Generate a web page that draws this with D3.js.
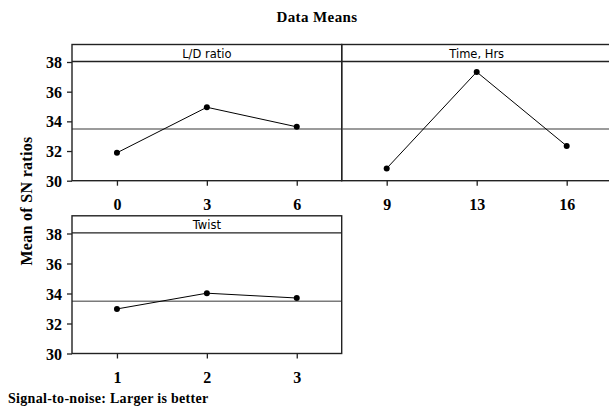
<!DOCTYPE html>
<meta charset="utf-8">
<style>
body { margin: 0; background: #fff; }
svg { display: block; overflow: hidden; }
.tick-label { font-family: "Liberation Serif", "Times New Roman", serif; font-weight: bold; font-size: 16px; fill: #000; }
.strip { font-family: "DejaVu Sans", sans-serif; font-size: 11.5px; fill: #000; }
</style>
<body>
<script src="https://d3js.org/d3.v7.min.js"></script>
<script>

// values
var factors = ["L/D ratio", "Time, Hrs", "Twist"];
var ldLevels = ["0", "3", "6"];
var ldMeans = [31.88, 34.95, 33.63];
var timeLevels = ["9", "13", "16"];
var timeMeans = [30.83, 37.33, 32.34];
var twistLevels = ["1", "2", "3"];
var twistMeans = [32.97, 34.02, 33.70];
var grandMean = 33.49;
var yTicks = [30, 32, 34, 36, 38];

var width = 609, height = 409;

var svg = d3.select("body").append("svg")
    .attr("width", width)
    .attr("height", height);

// panel boxes (left, right, top, bottom)
var boxes = [
  {x0: 72, x1: 341.7, y0: 44.5, y1: 180.7, yaxis: true},
  {x0: 341.7, x1: 611.7, y0: 44.5, y1: 180.7, yaxis: false},
  {x0: 72, x1: 341.7, y0: 215.8, y1: 353.5, yaxis: true}
];
var levels = [ldLevels, timeLevels, twistLevels];
var means = [ldMeans, timeMeans, twistMeans];
var stripH = 17;

factors.forEach(function(name, i){
  var b = boxes[i];
  var g = svg.append("g");

  var x = d3.scalePoint()
    .domain(levels[i])
    .range([b.x0, b.x1])
    .padding(0.5);
  var y = d3.scaleLinear()
    .domain([30, 39.18])
    .range([b.y1, b.y0]);

  // grand mean reference line
  g.append("line")
    .attr("x1", b.x0).attr("x2", b.x1)
    .attr("y1", y(grandMean)).attr("y2", y(grandMean))
    .attr("stroke", "#7a7a7a")
    .attr("stroke-width", 1.5);

  // strip
  g.append("line")
    .attr("x1", b.x0).attr("x2", b.x1)
    .attr("y1", b.y0 + stripH).attr("y2", b.y0 + stripH)
    .attr("stroke", "#222")
    .attr("stroke-width", 1.3);
  g.append("text")
    .attr("class", "strip")
    .attr("x", (b.x0 + b.x1) / 2)
    .attr("y", b.y0 + 13.5)
    .attr("text-anchor", "middle")
    .text(name);

  // panel border
  g.append("rect")
    .attr("x", b.x0).attr("y", b.y0)
    .attr("width", b.x1 - b.x0).attr("height", b.y1 - b.y0)
    .attr("fill", "none")
    .attr("stroke", "#222")
    .attr("stroke-width", 1.4);

  // x axis
  var xAxis = g.append("g")
    .attr("transform", "translate(0," + b.y1 + ")")
    .call(d3.axisBottom(x).tickSize(5).tickPadding(10));
  xAxis.select(".domain").remove();
  xAxis.selectAll("line").attr("stroke", "#222").attr("stroke-width", 1.3);
  xAxis.selectAll("text").attr("class", "tick-label")
    .attr("font-family", null).attr("font-size", null).attr("fill", null)
    .attr("dy", "0.9em");

  // y axis
  if (b.yaxis) {
    var yAxis = g.append("g")
      .attr("transform", "translate(" + b.x0 + ",0)")
      .call(d3.axisLeft(y).tickValues(yTicks).tickSize(5).tickPadding(5));
    yAxis.select(".domain").remove();
    yAxis.selectAll("line").attr("stroke", "#222").attr("stroke-width", 1.3);
    yAxis.selectAll("text").attr("class", "tick-label")
      .attr("font-family", null).attr("font-size", null).attr("fill", null)
      .attr("dy", "0.35em");
  }

  // main effect line and points
  var pts = levels[i].map(function(l, j){ return {lev: l, val: means[i][j]}; });
  g.append("path")
    .datum(pts)
    .attr("fill", "none")
    .attr("stroke", "#000")
    .attr("stroke-width", 1)
    .attr("d", d3.line()
      .x(function(d){ return x(d.lev); })
      .y(function(d){ return y(d.val); }));
  g.selectAll(".pt")
    .data(pts)
    .enter().append("circle")
    .attr("cx", function(d){ return x(d.lev); })
    .attr("cy", function(d){ return y(d.val); })
    .attr("r", 3)
    .attr("fill", "#000");
});

// titles
svg.append("text")
  .attr("x", 317)
  .attr("y", 22)
  .attr("text-anchor", "middle")
  .style("font-family", "'Liberation Serif', serif")
  .style("font-weight", "bold")
  .style("font-size", "15px")
  .style("letter-spacing", "0.4px")
  .text("Data Means");

svg.append("text")
  .attr("transform", "translate(32,201) rotate(-90)")
  .attr("text-anchor", "middle")
  .style("font-family", "'Liberation Serif', serif")
  .style("font-weight", "bold")
  .style("font-size", "16px")
  .style("letter-spacing", "0.3px")
  .text("Mean of SN ratios");

svg.append("text")
  .attr("x", 8)
  .attr("y", 403)
  .style("font-family", "'Liberation Serif', serif")
  .style("font-weight", "bold")
  .style("font-size", "14px")
  .style("letter-spacing", "0.3px")
  .text("Signal-to-noise: Larger is better");

</script>
